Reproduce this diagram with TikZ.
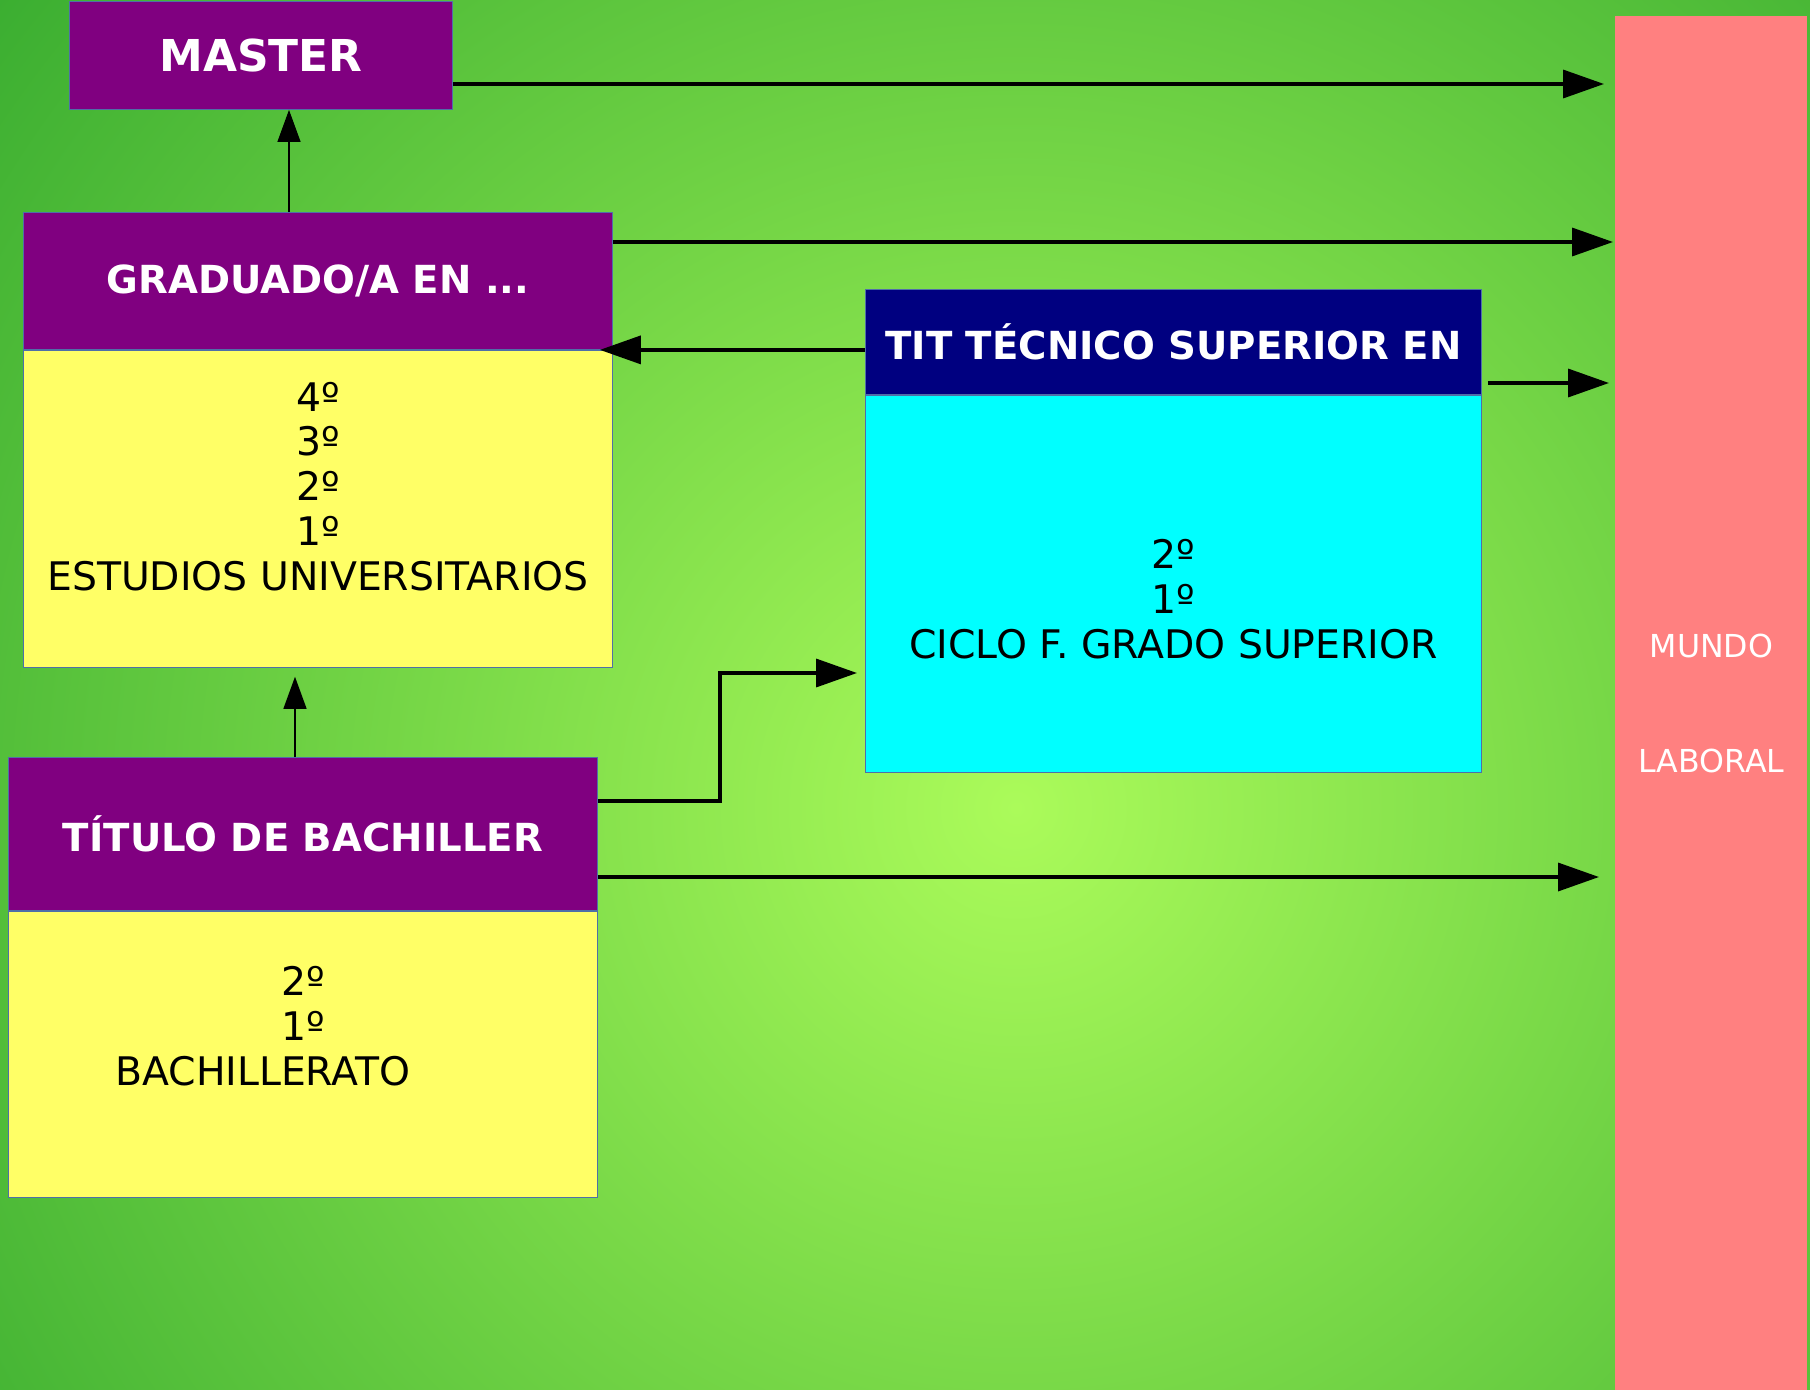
\documentclass[tikz,border=0pt]{standalone}
\usepackage{fontspec}
\setmainfont{DejaVu Sans}
\usetikzlibrary{arrows.meta,positioning}
\definecolor{bgin}{HTML}{ABFB5A}
\definecolor{bgout}{HTML}{3BAE31}
\definecolor{headpurple}{HTML}{800080}
\definecolor{headnavy}{HTML}{000080}
\definecolor{bodyyellow}{HTML}{FFFF66}
\definecolor{bodycyan}{HTML}{00FFFF}
\definecolor{worldpink}{HTML}{FF8080}
\definecolor{boxline}{HTML}{4F6FA8}

\begin{document}
\begin{tikzpicture}[
    box/.style={draw=boxline, line width=0.5pt, inner sep=0pt, anchor=north west},
    head/.style={box, text=white, font=\bfseries\fontsize{22pt}{26pt}\selectfont},
    years/.style={align=center, font=\fontsize{22.4pt}{25.5pt}\selectfont},
    bigarrow/.style={-{Triangle[length=0.82cm,width=0.56cm]}, line width=2pt},
    thinarrow/.style={-{Triangle[length=0.64cm,width=0.46cm]}, line width=0.7pt}]

  \useasboundingbox (0,0) rectangle (36.2,-27.8);
  \begin{scope}
    \clip (0,0) rectangle (36.2,-27.8);
    \shade[inner color=bgin, outer color=bgout] (20.32,-16.16) circle (26);
  \end{scope}

  \node[box, draw=none, fill=worldpink, minimum width=3.84cm, minimum height=27.48cm,
        text=white, align=center, font=\fontsize{18pt}{65pt}\selectfont]
        (mundo) at (32.3,-0.32) {MUNDO\\LABORAL};

  \node[head, fill=headpurple, minimum width=7.66cm, minimum height=2.16cm,
        font=\bfseries\fontsize{25pt}{30pt}\selectfont] (master) at (1.38,-0.02) {MASTER};

  \node[head, fill=headpurple, minimum width=11.78cm, minimum height=2.74cm] (gradhead) at (0.46,-4.24) {GRADUADO/A EN ...};
  \node[box, fill=bodyyellow, minimum width=11.78cm, minimum height=6.34cm] (gradbody) [below=0pt of gradhead] {};
  \node[years] (gradtext) at ([yshift=0.45cm]gradbody.center) {4º\\3º\\2º\\1º\\ESTUDIOS UNIVERSITARIOS};

  \node[head, fill=headnavy, minimum width=12.32cm, minimum height=2.1cm] (tithead) at (17.3,-5.78) {TIT TÉCNICO SUPERIOR EN};
  \node[box, fill=bodycyan, minimum width=12.32cm, minimum height=7.54cm] (titbody) [below=0pt of tithead] {};
  \node[years] (tittext) at ([yshift=-0.31cm]titbody.center) {2º\\1º\\CICLO F. GRADO SUPERIOR};

  \node[head, fill=headpurple, minimum width=11.78cm, minimum height=3.06cm] (bachhead) at (0.16,-15.14) {TÍTULO DE BACHILLER};
  \node[box, fill=bodyyellow, minimum width=11.78cm, minimum height=5.72cm] (bachbody) [below=0pt of bachhead] {};
  \node[years] (bachtext) at ([yshift=0.56cm]bachbody.center) {2º\\1º\\BACHILLERATO\hspace*{1.6cm}};

  % free ends and bends
  \coordinate (up1) at (5.78,0);
  \coordinate (up2) at (5.9,0);
  \coordinate (gradfoot) at ([yshift=-0.18cm]gradbody.south);
  \coordinate (titout) at ([xshift=0.12cm]tithead.east);
  \coordinate (titin) at ([xshift=-0.16cm]titbody.west);
  \coordinate (gradin) at ([xshift=-0.26cm]gradhead.south east);
  \coordinate (kink1) at (14.4,-16.02);
  \coordinate (kink2) at (14.4,-13.46);
  \coordinate (to1) at (32.08,-1.68);
  \coordinate (to2) at (32.26,-4.84);
  \coordinate (to4) at (32.18,-7.66);
  \coordinate (to8) at (31.98,-17.54);

  \path (gradhead.north -| up1) edge[thinarrow] (master.south -| up1)
        (bachhead.north -| up2) edge[thinarrow] (gradfoot -| up2)
        (master.east |- to1)    edge[bigarrow]  (to1)
        (gradhead.east |- to2)  edge[bigarrow]  (to2)
        (tithead.west |- gradin) edge[bigarrow] (gradin)
        (titout |- to4)         edge[bigarrow]  (to4)
        (bachhead.east |- to8)  edge[bigarrow]  (to8);
  \draw[bigarrow] (bachhead.east |- kink1) -- (kink1) -- (kink2) -- (titin |- kink2);
\end{tikzpicture}
\end{document}
